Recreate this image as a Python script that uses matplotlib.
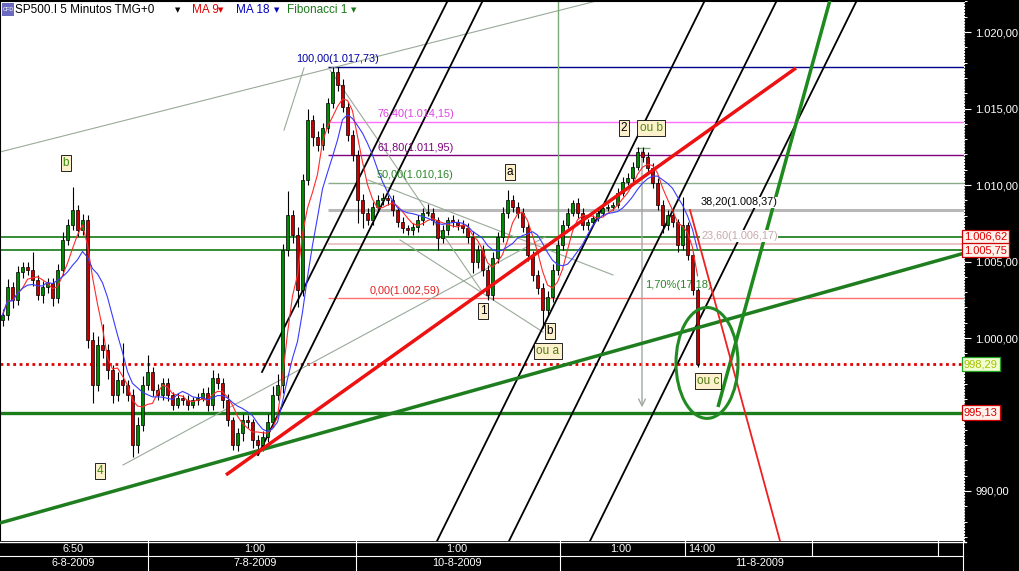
import numpy as np
import pandas as pd
import matplotlib
matplotlib.use("Agg")
import matplotlib.pyplot as plt
from matplotlib.patches import Ellipse, Rectangle
from matplotlib.transforms import blended_transform_factory
from matplotlib.ticker import MultipleLocator, FuncFormatter

plt.rcParams['font.family'] = ['Liberation Sans', 'DejaVu Sans']

# ---------------- data (10-minute resampled view of the 5-min chart) ----------------
close = [
    1001.50, 1003.33, 1002.48, 1004.31, 1004.64, 1004.44, 1003.79, 1002.81, 1003.33, 1003.59,
    1002.61, 1004.44, 1006.41, 1007.39, 1008.37, 1007.06, 1007.71, 999.87, 996.93, 999.54,
    999.22, 997.91, 996.27, 997.25, 996.93, 996.27, 993.01, 994.31, 996.93, 997.78,
    996.60, 996.27, 997.06, 996.27, 995.62, 996.08, 995.95, 995.62, 995.95, 996.08,
    996.41, 995.62, 997.39, 997.06, 995.95, 994.64, 993.01, 993.79, 994.64, 994.51,
    993.33, 993.01, 993.53, 994.51, 996.27, 996.93, 1005.75, 1008.04, 1006.73, 1003.14,
    1010.33, 1014.25, 1013.14, 1012.61, 1013.73, 1015.36, 1017.39, 1016.54, 1015.10, 1013.27,
    1011.96, 1009.02, 1008.17, 1007.71, 1008.56, 1009.02, 1009.15, 1009.02, 1008.37, 1007.58,
    1007.19, 1007.06, 1007.25, 1007.71, 1008.17, 1008.17, 1007.71, 1006.54, 1007.06, 1007.71,
    1007.58, 1007.39, 1007.19, 1006.60, 1004.97, 1005.75, 1004.44, 1002.81, 1005.23, 1006.60,
    1008.17, 1009.02, 1008.56, 1008.17, 1007.25, 1005.42, 1004.12, 1003.27, 1001.83, 1002.68,
    1004.44, 1006.08, 1007.39, 1008.17, 1008.82, 1008.17, 1007.39, 1007.58, 1007.84, 1008.17,
    1008.50, 1008.56, 1008.69, 1009.48, 1010.20, 1010.46, 1011.18, 1012.16, 1011.83, 1011.11,
    1010.13, 1008.69, 1007.39, 1008.04, 1007.58, 1006.08, 1007.39, 1005.42, 1003.14, 998.29,
]
first_open = 1001.20
wick_up = [
    0.4, 0.5, 0.3, 0.4, 0.3, 0.3, 1.2, 0.3, 0.4, 0.3,
    0.3, 0.4, 0.5, 0.4, 1.5, 0.3, 0.4, 0.3, 0.5, 0.6,
    1.4, 0.4, 0.3, 0.5, 2.4, 0.3, 0.4, 0.5, 0.6, 1.1,
    0.3, 0.4, 0.3, 0.3, 0.2, 0.3, 0.2, 0.3, 0.2, 0.3,
    0.3, 0.4, 0.5, 0.3, 0.3, 0.4, 0.2, 0.3, 0.4, 0.3,
    0.2, 0.3, 0.4, 0.5, 0.6, 0.7, 0.4, 1.6, 0.3, 0.5,
    0.4, 0.75, 0.3, 0.4, 0.3, 0.3, 0.34, 0.3, 0.4, 0.3,
    0.3, 0.3, 0.4, 0.3, 0.3, 0.3, 0.3, 0.2, 0.3, 0.2,
    0.3, 0.2, 0.3, 0.3, 0.3, 0.6, 0.3, 0.2, 0.3, 0.2,
    0.3, 0.2, 0.3, 0.3, 0.4, 0.3, 0.3, 0.3, 0.4, 0.3,
    0.4, 0.65, 0.3, 0.3, 0.3, 0.3, 0.3, 0.3, 0.3, 0.4,
    0.4, 0.3, 0.3, 0.3, 0.2, 0.3, 0.3, 0.2, 0.2, 0.2,
    0.2, 0.2, 0.2, 0.3, 0.3, 0.3, 0.3, 0.35, 0.3, 0.3,
    0.3, 0.3, 0.3, 0.3, 0.3, 0.2, 1.8, 0.2, 0.2, 0.1,
]
wick_dn = [
    0.4, 0.3, 0.5, 0.3, 0.4, 0.3, 0.4, 0.3, 0.5, 0.4,
    0.5, 0.3, 0.3, 0.3, 0.3, 0.4, 0.3, 0.5, 1.2, 0.4,
    0.5, 0.6, 0.5, 0.4, 0.5, 0.4, 0.8, 0.5, 0.4, 0.3,
    0.4, 0.3, 0.3, 0.4, 0.3, 0.2, 0.3, 0.3, 0.2, 0.3,
    0.2, 0.4, 0.3, 0.4, 0.5, 0.4, 0.3, 0.4, 0.5, 0.4,
    0.5, 0.66, 0.4, 0.3, 0.3, 0.3, 0.5, 0.4, 0.5, 1.1,
    0.4, 0.3, 0.6, 0.4, 0.3, 0.3, 0.3, 0.4, 0.3, 0.4,
    0.4, 1.5, 1.0, 0.3, 0.3, 0.3, 0.3, 0.3, 0.4, 0.3,
    0.3, 0.3, 0.3, 0.3, 0.3, 0.2, 0.3, 0.8, 0.3, 0.3,
    0.3, 0.3, 0.3, 0.4, 0.7, 0.4, 0.4, 0.3, 0.3, 0.3,
    0.3, 0.3, 0.3, 0.3, 0.3, 0.4, 0.4, 0.4, 1.2, 0.4,
    0.3, 0.3, 0.3, 0.2, 0.2, 0.3, 0.3, 0.3, 0.2, 0.2,
    0.2, 0.2, 0.2, 0.2, 0.2, 0.2, 0.3, 0.2, 0.3, 0.3,
    0.3, 0.3, 0.5, 0.3, 0.3, 0.45, 0.3, 0.3, 0.3, 0.2,
]

fib_pcts = [100.0, 76.4, 61.8, 50.0, 38.2, 23.6, 0.0]
fib_values = [1017.73, 1014.15, 1011.95, 1010.16, 1008.37, 1006.17, 1002.59]
fib_colors = ['#00008b', '#ff70ff', '#800080', '#8aaa8a', '#b8b8b8', '#e8c0c0', '#ff7070']
fib_text_colors = ['#0000a0', '#e040e0', '#800080', '#2a862a', '#000000', '#c8a8a8', '#e02020']
fib_widths = [1.0, 1.0, 1.0, 1.0, 2.2, 1.3, 1.0]
fib_label_x = [58.7, 74.9, 74.9, 74.9, 139.7, 139.7, 73.5]

green_levels = [1006.62, 1005.75]
support_level = 995.13
last_price = 998.29

# trendline anchors: (bar, price)
trend_green = [(-0.5, 987.91), (192.5, 1005.56)]
trend_red = [(44.7, 991.05), (158.7, 1017.65)]
fall_red = [(137.5, 1008.37), (155.5, 986.73)]
steep_green = [(143.1, 995.49), (165.5, 1022.09)]
black_lines = [
    [(51.9, 997.78), (89.1, 1022.09)],
    [(51.1, 992.35), (96.1, 1022.09)],
    [(86.9, 986.73), (140.5, 1022.09)],
    [(101.3, 986.73), (154.9, 1022.09)],
    [(117.5, 986.73), (170.9, 1022.09)],
]
grey_lines = [
    [(-0.5, 1012.16), (119.5, 1022.09)],
    [(56.3, 1013.59), (60.3, 1017.65)],
    [(65.5, 1017.52), (96.1, 1002.94)],
    [(73.1, 1010.33), (122.1, 1004.12)],
    [(79.5, 1006.41), (108.1, 1000.39)],
    [(24.1, 991.70), (108.5, 1006.60)],
]
vline_green = (111.1, 1004.97, 1022.1)
measure_arrow = (127.9, 1012.42, 995.29)
measure_label = ("1,70%(17,18)", 128.5, 1003.46)
ellipse_c = (140.9, 998.37)
ellipse_wh = (12.4, 7.25)

wave_labels = ["b", "4", "a", "2", "ou b", "1", "b", "ou a", "ou c"]
wave_x = [12.7, 19.5, 101.5, 124.3, 129.7, 96.1, 109.5, 109.1, 141.1]
wave_p = [1011.44, 991.31, 1010.85, 1013.73, 1013.73, 1001.76, 1000.46, 999.15, 997.19]
wave_colors = ['#3d8a10', '#3d8a10', 'black', 'black', '#4f8a10', 'black', 'black', '#4f7a10', '#4f7a10']

y_major = [990, 995, 1000, 1005, 1010, 1015, 1020]
y_hidden = [995]  # covered by the 995,13 tag in the original
time_labels = ["6:50", "1:00", "1:00", "1:00", "14:00"]
date_labels = ["6-8-2009", "7-8-2009", "10-8-2009", "11-8-2009"]

MA_FAST, MA_SLOW = 5, 9  # bars of the resampled series (≈ MA 9 / MA 18 on 5-min bars)


def fmt_price(v):
    s = f"{v:,.2f}"
    return s.replace(',', 'X').replace('.', ',').replace('X', '.')


# ---------------- figure ----------------
W, H = 1019, 571
fig = plt.figure(figsize=(W / 100, H / 100), dpi=100, facecolor='black')
PLOT_R = 964
ax = fig.add_axes([0, 30 / H, PLOT_R / W, 540 / H])
ax.set_facecolor('white')
ax.set_xlim(-0.5, PLOT_R / 5 - 0.5)
ax.set_ylim(986.73, 1022.03)

n = len(close)
xs = np.arange(n)
c = np.array(close)
o = np.array([first_open] + close[:-1])
hi = np.maximum(o, c) + np.array(wick_up)
lo = np.minimum(o, c) - np.array(wick_dn)
up = c >= o

# horizontal levels
for lv in green_levels:
    ax.axhline(lv, color='#137a13', lw=1.2, zorder=2)
ax.axhline(support_level, color='#1a7d1a', lw=2.4, zorder=2)
ax.axhline(last_price, color='#e00000', lw=2.0, ls=(0, (1, 1.3)), zorder=2)

peak_idx = int(np.argmax(hi))
for val, col, lw in zip(fib_values, fib_colors, fib_widths):
    ax.hlines(val, peak_idx - 1, ax.get_xlim()[1], color=col, lw=lw, zorder=2)
for pct, val, tc, lx in zip(fib_pcts, fib_values, fib_text_colors, fib_label_x):
    lab = f"{pct:.2f}".replace('.', ',') + "(" + fmt_price(val) + ")"
    kw = {}
    if pct in (38.2, 23.6):
        kw['bbox'] = dict(boxstyle='square,pad=0.05', fc='white', ec='none')
    ax.text(lx, val + 0.17, lab, color=tc, fontsize=7.8, ha='left', va='bottom', zorder=6, **kw)

# thin grey lines
for (a, b) in grey_lines:
    ax.plot([a[0], b[0]], [a[1], b[1]], color='#9aaa9a', lw=0.8, zorder=2.2)

# vertical green marker and measurement arrow
ax.vlines(vline_green[0], vline_green[1], vline_green[2], color='#7aaa7a', lw=1.0, zorder=2.2)
ax.annotate('', xy=(measure_arrow[0], measure_arrow[2]), xytext=(measure_arrow[0], measure_arrow[1]),
            arrowprops=dict(arrowstyle='->', color='#a0a8a0', lw=1.0, mutation_scale=12), zorder=2.2)
ax.hlines(measure_arrow[1], measure_arrow[0] - 1.3, measure_arrow[0] + 1.5, color='#7aaa7a', lw=1.0, zorder=2.2)
ax.text(measure_label[1], measure_label[2], measure_label[0], color='#2a862a', fontsize=8,
        ha='left', va='center', zorder=2.3)

# black parallel lines
for (a, b) in black_lines:
    ax.plot([a[0], b[0]], [a[1], b[1]], color='black', lw=1.3, zorder=2.5)

# candles
ax.vlines(xs, lo, hi, color='black', lw=0.8, zorder=3)
body_b = np.minimum(o, c)
body_h = np.maximum(np.abs(c - o), 0.08)
ax.bar(xs, body_h, bottom=body_b, width=0.62, color=np.where(up, '#008a00', '#c40000'),
       edgecolor='black', linewidth=0.5, zorder=4)

# moving averages
ma_f = pd.Series(c).rolling(MA_FAST, min_periods=1).mean()
ma_s = pd.Series(c).rolling(MA_SLOW, min_periods=1).mean()
ax.plot(xs, ma_f, color='#ff2a2a', lw=0.8, zorder=5)
ax.plot(xs, ma_s, color='#3a3aff', lw=0.8, zorder=5)

# thick trend lines
for seg, col in [(trend_green, '#1e7d1e'), (trend_red, '#ee1111'), (steep_green, '#1e8a1e')]:
    ax.plot([seg[0][0], seg[1][0]], [seg[0][1], seg[1][1]], color=col, lw=2.5, zorder=5.5,
            solid_capstyle='butt')
ax.plot([fall_red[0][0], fall_red[1][0]], [fall_red[0][1], fall_red[1][1]], color='#ee2020', lw=1.3, zorder=5.5)
ax.add_patch(Ellipse(ellipse_c, ellipse_wh[0], ellipse_wh[1], fill=False, ec='#228a22', lw=2.2, zorder=5.5))

# wave labels
for lab, lx, lp, lc in zip(wave_labels, wave_x, wave_p, wave_colors):
    ax.text(lx, lp, lab, color=lc, fontsize=8.5, ha='center', va='center', zorder=7,
            bbox=dict(boxstyle='square,pad=0.18', fc='#fdf0cc', ec='black', lw=0.6))

# axes styling
for s in ['left', 'top']:
    ax.spines[s].set_color('black')
ax.spines['bottom'].set_visible(False)
ax.spines['right'].set_color('white')
ax.spines['right'].set_linestyle(':')
ax.set_xticks([])
ax.yaxis.set_ticks_position('right')
ax.set_yticks(y_major)
ax.yaxis.set_major_formatter(FuncFormatter(lambda v, p: '' if round(v) in y_hidden else fmt_price(v)))
ax.yaxis.set_minor_locator(MultipleLocator(1))
ax.tick_params(axis='y', which='major', colors='white', length=5, width=0.8, labelsize=8, pad=3)
ax.tick_params(axis='y', which='minor', colors='white', length=2.5, width=0.7)

# right-hand price tags
bt = blended_transform_factory(ax.transAxes, ax.transData)
tags = [(green_levels[0], '#dd0000', '#fff2ec', '#cc0000'),
        (green_levels[1], '#dd0000', '#fff2ec', '#cc0000'),
        (last_price, '#a8c000', '#efffd0', '#22a022'),
        (support_level, '#dd0000', '#fff2ec', '#cc0000')]
for val, tcol, fc, ec in tags:
    ax.text(1.0, val, fmt_price(val), transform=bt, color=tcol, fontsize=8, ha='left', va='center',
            clip_on=False, zorder=10,
            bbox=dict(boxstyle='square,pad=0.2', fc=fc, ec=ec, lw=0.9))

# header
def fx(px):
    return px / W


def fy(py):
    return 1 - py / H


fig.patches.append(Rectangle((fx(2), fy(16)), 12 / W, 13 / H, transform=fig.transFigure,
                             facecolor='#6a6ac0', edgecolor='none', zorder=5))
fig.text(fx(8), fy(9.5), "CFD", color='white', fontsize=4, ha='center', va='center', zorder=6)
hdr = 8.5
fig.text(fx(15), fy(10), "SP500.I 5 Minutos TMG+0", color='black', fontsize=hdr, ha='left', va='center')
fig.text(fx(178), fy(10), "▼", color='black', fontsize=5, ha='center', va='center', family='DejaVu Sans')
fig.text(fx(192), fy(10), "MA 9", color='#e00000', fontsize=hdr, ha='left', va='center')
fig.text(fx(221), fy(10), "▼", color='#e00000', fontsize=5, ha='center', va='center', family='DejaVu Sans')
fig.text(fx(236), fy(10), "MA 18", color='#0000c0', fontsize=hdr, ha='left', va='center')
fig.text(fx(277), fy(10), "▼", color='#0000c0', fontsize=5, ha='center', va='center', family='DejaVu Sans')
fig.text(fx(287), fy(10), "Fibonacci 1", color='#1a7a1a', fontsize=hdr, ha='left', va='center')
fig.text(fx(354), fy(10), "▼", color='#1a7a1a', fontsize=5, ha='center', va='center', family='DejaVu Sans')

# bottom time panel
bax = fig.add_axes([0, 0, 1, 30 / H])
bax.set_xlim(0, W)
bax.set_ylim(30, 0)
bax.axis('off')
bax.plot([0, 966], [0.5, 0.5], color='white', lw=1.0)
bax.plot([0, 963], [15, 15], color='white', lw=0.8)
for sx in [148, 356, 560, 963]:
    bax.plot([sx, sx], [0, 30], color='white', lw=0.8)
for sx in [685, 812, 938]:
    bax.plot([sx, sx], [0, 15], color='white', lw=0.8)
for lab, px in zip(time_labels[:4], [73, 255, 457, 621]):
    bax.text(px, 7.5, lab, color='white', fontsize=7.8, ha='center', va='center')
bax.text(688, 7.5, time_labels[4], color='white', fontsize=7.8, ha='left', va='center')
for lab, px in zip(date_labels, [73, 255, 457, 760]):
    bax.text(px, 22.5, lab, color='white', fontsize=7.8, ha='center', va='center')

fig.savefig('out.png', dpi=100, facecolor='black')
